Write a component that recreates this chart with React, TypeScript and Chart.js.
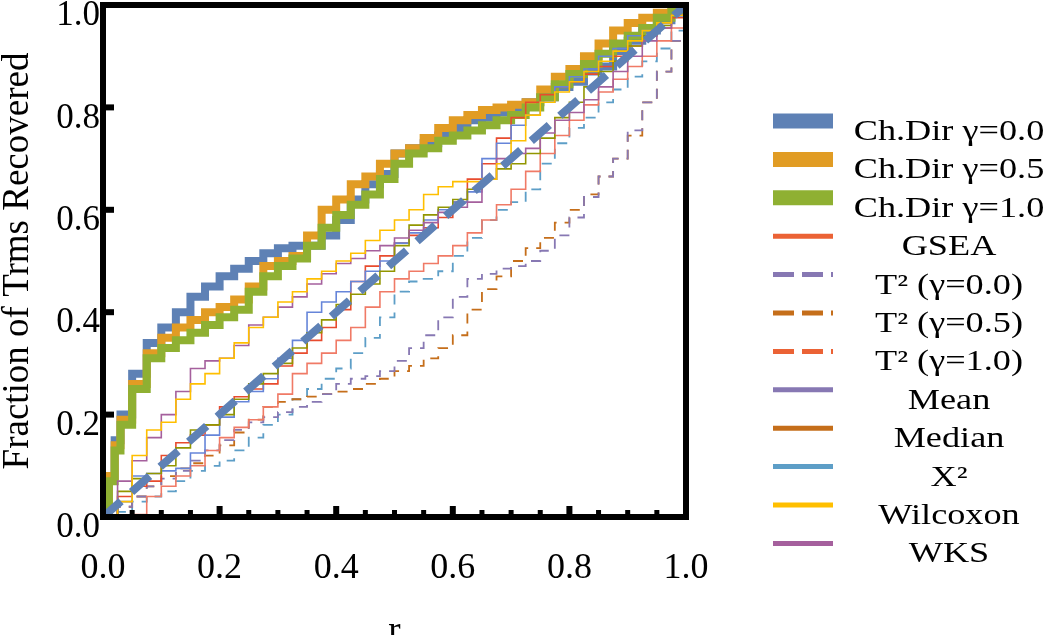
import { useEffect, useRef } from 'react';
import { Chart, registerables } from 'chart.js';

Chart.register(...registerables);

// x positions (fraction r)
const R_FINE = [0, 0.01, 0.02, 0.03, 0.05, 0.075, 0.1, 0.125, 0.15, 0.175, 0.2, 0.225, 0.25, 0.275, 0.3, 0.325, 0.35, 0.375, 0.4, 0.425, 0.45, 0.475, 0.5, 0.525, 0.55, 0.575, 0.6, 0.625, 0.65, 0.675, 0.7, 0.725, 0.75, 0.775, 0.8, 0.825, 0.85, 0.875, 0.9, 0.925, 0.95, 0.975, 1];
const R_STEP = [0, 0.025, 0.05, 0.075, 0.1, 0.125, 0.15, 0.175, 0.2, 0.225, 0.25, 0.275, 0.3, 0.325, 0.35, 0.375, 0.4, 0.425, 0.45, 0.475, 0.5, 0.525, 0.55, 0.575, 0.6, 0.625, 0.65, 0.675, 0.7, 0.725, 0.75, 0.775, 0.8, 0.825, 0.85, 0.875, 0.9, 0.925, 0.95, 0.975, 1];
const R_DIAG = [0, 0.1, 0.2, 0.3, 0.4, 0.5, 0.6, 0.7, 0.8, 0.9, 1];

// thick Ch.Dir curves (on R_FINE)
const CHDIR_00 = [0, 0.08, 0.15, 0.2, 0.28, 0.34, 0.37, 0.4, 0.43, 0.45, 0.47, 0.485, 0.5, 0.515, 0.525, 0.53, 0.53, 0.55, 0.58, 0.62, 0.65, 0.67, 0.71, 0.72, 0.73, 0.745, 0.76, 0.775, 0.78, 0.79, 0.8, 0.81, 0.82, 0.84, 0.85, 0.87, 0.88, 0.91, 0.93, 0.95, 0.97, 0.985, 1];
const CHDIR_05 = [0, 0.08, 0.14, 0.19, 0.26, 0.32, 0.35, 0.37, 0.385, 0.4, 0.41, 0.425, 0.45, 0.49, 0.5, 0.51, 0.55, 0.6, 0.62, 0.65, 0.665, 0.69, 0.71, 0.72, 0.74, 0.76, 0.775, 0.785, 0.795, 0.8, 0.805, 0.81, 0.835, 0.86, 0.875, 0.9, 0.925, 0.95, 0.965, 0.975, 0.985, 0.99, 1];
const CHDIR_10 = [0, 0.07, 0.13, 0.18, 0.25, 0.31, 0.33, 0.345, 0.36, 0.375, 0.39, 0.405, 0.44, 0.47, 0.49, 0.505, 0.53, 0.565, 0.59, 0.61, 0.63, 0.66, 0.69, 0.71, 0.72, 0.735, 0.745, 0.755, 0.765, 0.775, 0.785, 0.8, 0.82, 0.845, 0.865, 0.885, 0.905, 0.925, 0.94, 0.955, 0.975, 0.99, 1];

// thin curves (on R_STEP)
const GSEA = [0, 0, 0.005, 0.04, 0.06, 0.08, 0.1, 0.13, 0.155, 0.175, 0.19, 0.215, 0.24, 0.28, 0.3, 0.32, 0.345, 0.37, 0.41, 0.44, 0.465, 0.48, 0.495, 0.51, 0.53, 0.555, 0.58, 0.61, 0.64, 0.675, 0.71, 0.745, 0.775, 0.805, 0.83, 0.855, 0.88, 0.9, 0.93, 0.955, 1];
const T2_00 = [0, 0.02, 0.04, 0.06, 0.075, 0.09, 0.11, 0.13, 0.15, 0.17, 0.185, 0.195, 0.205, 0.215, 0.225, 0.24, 0.26, 0.27, 0.275, 0.285, 0.305, 0.33, 0.355, 0.39, 0.43, 0.465, 0.475, 0.485, 0.49, 0.5, 0.52, 0.55, 0.585, 0.625, 0.665, 0.7, 0.755, 0.81, 0.87, 0.93, 1];
const T2_05 = [0, 0.02, 0.04, 0.06, 0.08, 0.095, 0.105, 0.12, 0.14, 0.165, 0.19, 0.215, 0.225, 0.23, 0.235, 0.24, 0.245, 0.25, 0.26, 0.27, 0.285, 0.295, 0.31, 0.33, 0.355, 0.405, 0.445, 0.47, 0.5, 0.525, 0.545, 0.575, 0.6, 0.63, 0.665, 0.7, 0.745, 0.81, 0.87, 0.93, 1];
const T2_10 = [0, 0.01, 0.03, 0.04, 0.05, 0.07, 0.09, 0.1, 0.11, 0.13, 0.155, 0.18, 0.2, 0.23, 0.25, 0.27, 0.29, 0.32, 0.35, 0.39, 0.44, 0.46, 0.465, 0.48, 0.51, 0.545, 0.58, 0.6, 0.615, 0.64, 0.69, 0.73, 0.76, 0.78, 0.81, 0.835, 0.86, 0.89, 0.915, 0.95, 1];
const MEAN = [0, 0.05, 0.075, 0.085, 0.1, 0.135, 0.17, 0.18, 0.2, 0.23, 0.26, 0.28, 0.3, 0.33, 0.36, 0.385, 0.415, 0.435, 0.455, 0.48, 0.53, 0.57, 0.59, 0.605, 0.62, 0.64, 0.66, 0.68, 0.69, 0.71, 0.74, 0.78, 0.81, 0.84, 0.87, 0.89, 0.92, 0.94, 0.96, 0.98, 1];
const MEDIAN = [0, 0.03, 0.08, 0.085, 0.09, 0.095, 0.125, 0.16, 0.195, 0.225, 0.245, 0.27, 0.31, 0.345, 0.4, 0.42, 0.44, 0.46, 0.48, 0.5, 0.535, 0.555, 0.58, 0.6, 0.615, 0.635, 0.7, 0.73, 0.765, 0.785, 0.81, 0.84, 0.86, 0.875, 0.9, 0.915, 0.94, 0.95, 0.965, 0.98, 1];
const X2 = [0, 0.04, 0.06, 0.07, 0.12, 0.145, 0.16, 0.18, 0.215, 0.235, 0.25, 0.26, 0.295, 0.32, 0.345, 0.37, 0.405, 0.46, 0.49, 0.51, 0.535, 0.55, 0.565, 0.585, 0.615, 0.66, 0.69, 0.74, 0.78, 0.81, 0.825, 0.84, 0.85, 0.865, 0.88, 0.9, 0.92, 0.94, 0.955, 0.975, 1];
const WILCOXON = [0, 0.03, 0.12, 0.17, 0.185, 0.23, 0.26, 0.28, 0.31, 0.34, 0.37, 0.39, 0.42, 0.44, 0.465, 0.48, 0.5, 0.515, 0.54, 0.56, 0.58, 0.6, 0.63, 0.645, 0.655, 0.655, 0.66, 0.69, 0.735, 0.785, 0.81, 0.83, 0.85, 0.87, 0.89, 0.91, 0.93, 0.95, 0.965, 0.98, 1];
const WKS = [0, 0.07, 0.11, 0.155, 0.2, 0.245, 0.29, 0.305, 0.31, 0.335, 0.375, 0.39, 0.41, 0.43, 0.455, 0.475, 0.495, 0.505, 0.52, 0.53, 0.545, 0.56, 0.575, 0.595, 0.605, 0.615, 0.66, 0.7, 0.71, 0.72, 0.75, 0.775, 0.79, 0.815, 0.84, 0.87, 0.9, 0.93, 0.955, 0.98, 1];
const DIAG = [0, 0.1, 0.2, 0.3, 0.4, 0.5, 0.6, 0.7, 0.8, 0.9, 1];

// ticks
const X_TICKS = [0, 0.2, 0.4, 0.6, 0.8, 1];
const X_MAJOR_MARKS = [0.2, 0.4, 0.6, 0.8];
const X_MINOR_MARKS = [0.05, 0.1, 0.15, 0.25, 0.3, 0.35, 0.45, 0.5, 0.55, 0.65, 0.7, 0.75, 0.85, 0.9, 0.95];
const Y_MAJOR_MARKS = [0.2, 0.4, 0.6, 0.8];

// legend
const LEGEND_LABELS = ['Ch.Dir γ=0.0', 'Ch.Dir γ=0.5', 'Ch.Dir γ=1.0', 'GSEA', 'T² (γ=0.0)', 'T² (γ=0.5)', 'T² (γ=1.0)', 'Mean', 'Median', 'X²', 'Wilcoxon', 'WKS'];
const LEGEND_COLORS = ['#5E81B5', '#E19C24', '#8FB032', '#EB6235', '#8778B3', '#C56E1A', '#EB6235', '#8778B3', '#C56E1A', '#5D9EC7', '#FFBF00', '#A5609D'];
const LEGEND_KIND = ['thick', 'thick', 'thick', 'thin', 'dash', 'dash', 'dash', 'thin', 'thin', 'thin', 'thin', 'thin'];

const SERIF = '"Liberation Serif", "Times New Roman", serif';

const pts = (xs: number[], ys: number[]) => xs.map((x, i) => ({ x, y: ys[i] }));

const framePlugin = {
  id: 'frame',
  afterDatasetsDraw(chart: any) {
    const { ctx, chartArea, scales } = chart;
    const { left, top, right, bottom } = chartArea;
    ctx.save();
    ctx.strokeStyle = '#000';
    ctx.lineWidth = 6;
    ctx.strokeRect(left, top, right - left, bottom - top);
    ctx.fillStyle = '#000';
    X_MAJOR_MARKS.forEach((v) => {
      const px = scales.x.getPixelForValue(v);
      ctx.fillRect(px - 3, bottom - 11, 6, 11);
    });
    X_MINOR_MARKS.forEach((v) => {
      const px = scales.x.getPixelForValue(v);
      ctx.fillRect(px - 2.5, bottom - 7, 5, 7);
    });
    Y_MAJOR_MARKS.forEach((v) => {
      const py = scales.y.getPixelForValue(v);
      ctx.fillRect(left, py - 3, 11, 6);
    });
    ctx.restore();
  },
};

const legendPlugin = {
  id: 'customLegend',
  afterDraw(chart: any) {
    const { ctx } = chart;
    ctx.save();
    LEGEND_LABELS.forEach((label, i) => {
      const yc = 121 + i * 38.4;
      const kind = LEGEND_KIND[i];
      ctx.strokeStyle = LEGEND_COLORS[i];
      ctx.lineCap = 'butt';
      ctx.lineWidth = kind === 'thick' ? 15 : 5;
      ctx.setLineDash(kind === 'dash' ? [21, 8] : []);
      ctx.beginPath();
      ctx.moveTo(773, yc);
      ctx.lineTo(833, yc);
      ctx.stroke();
      ctx.setLineDash([]);
      ctx.save();
      ctx.translate(949, yc + 19);
      ctx.scale(1.25, 1);
      ctx.font = `29px ${SERIF}`;
      ctx.fillStyle = '#000';
      ctx.textAlign = 'center';
      ctx.textBaseline = 'alphabetic';
      ctx.fillText(label, 0, 0);
      ctx.restore();
    });
    ctx.restore();
  },
};

export default function App() {
  const ref = useRef<HTMLCanvasElement | null>(null);

  useEffect(() => {
    if (!ref.current) return;
    const thin = (label: string, data: number[], color: string, dashed: boolean) => ({
      label,
      data: pts(R_STEP, data),
      borderColor: color,
      borderWidth: dashed ? 1.8 : 1.6,
      borderDash: dashed ? [10, 8] : [],
      stepped: true,
      pointRadius: 0,
      fill: false,
    });
    const thick = (label: string, data: number[], color: string) => ({
      label,
      data: pts(R_FINE, data),
      borderColor: color,
      borderWidth: 8,
      stepped: true,
      pointRadius: 0,
      fill: false,
      borderJoinStyle: 'miter' as const,
    });

    const chart = new Chart(ref.current, {
      type: 'line',
      data: {
        datasets: [
          {
            label: 'Random',
            data: pts(R_DIAG, DIAG),
            borderColor: '#5E81B5',
            borderWidth: 8,
            borderDash: [24, 14],
            pointRadius: 0,
            fill: false,
          },
          thin('Wilcoxon', WILCOXON, '#FFBF00', false),
          thin('WKS', WKS, '#A5609D', false),
          thin('Mean', MEAN, '#929600', false),
          thin('Median', MEDIAN, '#6685D9', false),
          thin('X²', X2, '#E84B2E', false),
          thin('GSEA', GSEA, '#F07A66', false),
          thin('T² (γ=0.0)', T2_00, '#8778B3', true),
          thin('T² (γ=0.5)', T2_05, '#C56E1A', true),
          thin('T² (γ=1.0)', T2_10, '#5D9EC7', true),
          thick('Ch.Dir γ=1.0', CHDIR_10, '#8FB032'),
          thick('Ch.Dir γ=0.5', CHDIR_05, '#E19C24'),
          thick('Ch.Dir γ=0.0', CHDIR_00, '#5E81B5'),
        ] as any,
      },
      options: {
        animation: false,
        responsive: false,
        maintainAspectRatio: false,
        layout: { padding: { left: 0, right: 364, top: 5, bottom: 0 } },
        plugins: {
          legend: { display: false },
          tooltip: { enabled: false },
        },
        scales: {
          x: {
            type: 'linear',
            min: 0,
            max: 1,
            grid: { display: false, drawTicks: false },
            border: { display: false },
            afterBuildTicks: (s: any) => {
              s.ticks = X_TICKS.map((v) => ({ value: v }));
            },
            ticks: {
              padding: 30,
              color: '#000',
              maxRotation: 0,
              autoSkip: false,
              font: { family: SERIF, size: 36 },
              callback: (v: any) => Number(v).toFixed(1),
            },
            title: {
              display: true,
              text: 'r',
              color: '#000',
              font: { family: SERIF, size: 37 },
              padding: { top: 0, bottom: -19 },
            },
            afterFit: (s: any) => {
              s.height = 118;
              s.paddingLeft = 0;
              s.paddingRight = 0;
            },
          },
          y: {
            type: 'linear',
            min: 0,
            max: 1,
            grid: { display: false, drawTicks: false },
            border: { display: false },
            afterBuildTicks: (s: any) => {
              s.ticks = X_TICKS.map((v) => ({ value: v }));
            },
            ticks: {
              padding: 3,
              labelOffset: 11,
              color: '#000',
              autoSkip: false,
              font: { family: SERIF, size: 35 },
              callback: (v: any) => Number(v).toFixed(1),
            },
            title: {
              display: true,
              text: 'Fraction of Trms Recovered',
              color: '#000',
              font: { family: SERIF, size: 37 },
              padding: { top: -4, bottom: 0 },
            },
            afterFit: (s: any) => {
              s.width = 103;
              s.paddingTop = 0;
              s.paddingBottom = 0;
            },
          },
        },
      } as any,
      plugins: [framePlugin, legendPlugin],
    });
    return () => chart.destroy();
  }, []);

  return (
    <div style={{ position: 'fixed', left: 0, top: 0, width: 1050, height: 635, background: '#fff' }}>
      <canvas ref={ref} width={1050} height={635} style={{ display: 'block' }} />
    </div>
  );
}
